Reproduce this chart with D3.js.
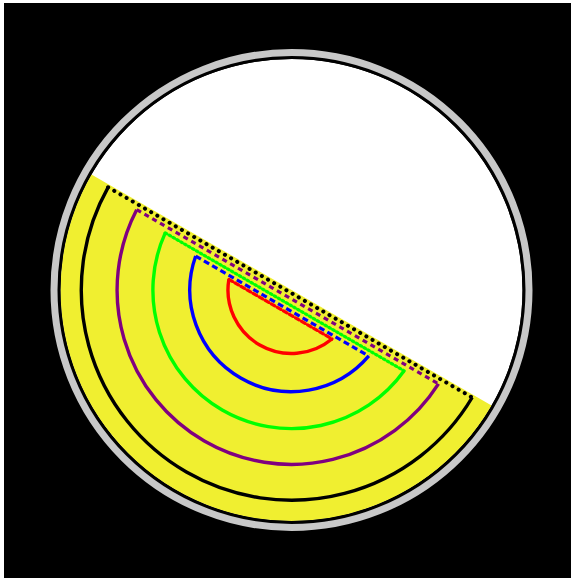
<!DOCTYPE html>
<html>
<head>
<meta charset="utf-8">
<script src="https://cdn.jsdelivr.net/npm/d3@7"></script>
<style>
  html, body { margin: 0; padding: 0; background: #fff; }
  svg { display: block; }
</style>
</head>
<body>
<svg id="chart" width="575" height="580"></svg>
<script>
// Contour levels: outer radius of each half-disc and the offset of its flat edge
// from the dividing diameter (both in % of the disc radius).
const levels  = ["black", "purple", "green", "blue", "red"];
const radii   = [91, 75.5, 60, 44, 27.5];
const offsets = [1.2, 3.4, 5.9, 8.0, 9.6];
const colors  = ["#000000", "#800080", "#00ff00", "#0000ff", "#ff0000"];
const dashes  = ["0.1,7", "5,4", "1.5,3", "6,3.5", "4,3"];
const caps    = ["round", "butt", "round", "butt", "round"];
const tiltDeg = 30;   // angle of the dividing diameter

const svg = d3.select("#chart");
const W = 575, H = 580;
const cx = 291.5, cy = 290;
const r = d3.scaleLinear().domain([0, 100]).range([0, 231]);

// frame
svg.append("rect").attr("x", 4).attr("y", 3).attr("width", W - 8).attr("height", H - 5)
  .attr("fill", "#000");

const g = svg.append("g").attr("transform", `translate(${cx},${cy})`);

// disc interior
g.append("circle").attr("r", r(100)).attr("fill", "#fff");

const inner = g.append("g").attr("transform", `rotate(${tiltDeg})`);

// lower half of the disc
const R0 = r(100);
inner.append("path")
  .attr("d", `M${R0},0 A${R0},${R0} 0 0 1 ${-R0},0 Z`)
  .attr("fill", "#f0ef30");

// contour half-discs: curved edge plus dashed flat edge
levels.forEach((name, i) => {
  const R = r(radii[i]);
  const b = r(offsets[i]);
  const a = Math.sqrt(R * R - b * b);
  inner.append("path")
    .attr("class", "arc-" + name)
    .attr("d", `M${a},${b} A${R},${R} 0 0 1 ${-a},${b}`)
    .attr("fill", "none")
    .attr("stroke", colors[i])
    .attr("stroke-width", 3.4);
  inner.append("path")
    .attr("class", "chord-" + name)
    .attr("d", `M${-a},${b} L${a},${b}`)
    .attr("fill", "none")
    .attr("stroke", colors[i])
    .attr("stroke-width", name === "black" ? 4 : 3.2)
    .attr("stroke-linecap", caps[i])
    .attr("stroke-dasharray", dashes[i]);
});

// rim
g.append("circle").attr("r", r(100) + 1.5).attr("fill", "none")
  .attr("stroke", "#000").attr("stroke-width", 3);
g.append("circle").attr("r", r(100) + 6.5).attr("fill", "none")
  .attr("stroke", "#c8c8c8").attr("stroke-width", 7);
</script>
</body>
</html>
